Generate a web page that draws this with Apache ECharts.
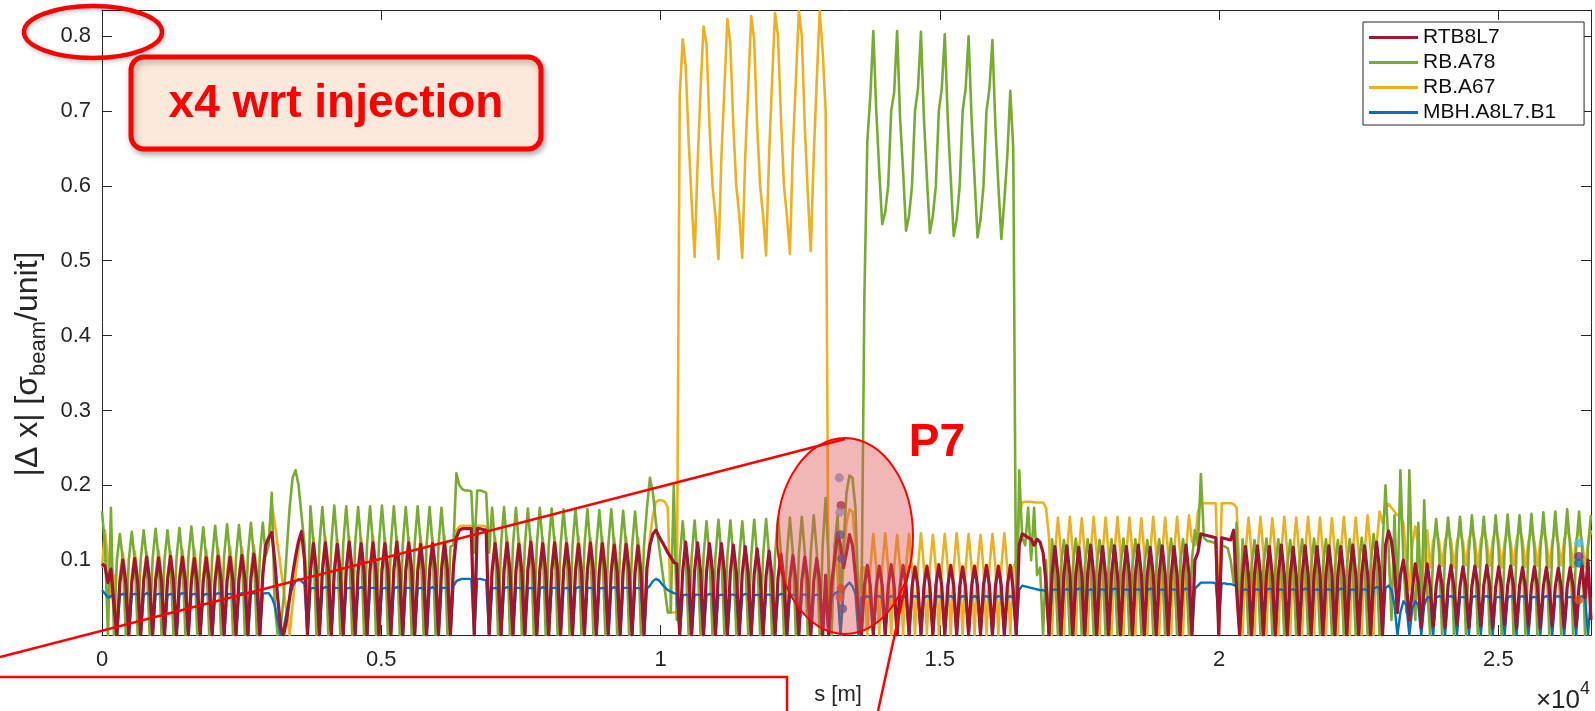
<!DOCTYPE html>
<html><head><meta charset="utf-8">
<script src="https://cdn.jsdelivr.net/npm/echarts@6/dist/echarts.min.js"></script>
<style>html,body{margin:0;padding:0;background:#fff}#c{width:1595px;height:711px}</style>
</head><body><div id="c"></div>
<script>
// ---- data (values in milli-units of sigma_beam/unit, one sample every S_STEP metres) ----
const S_STEP = 53.318;
const S_MAX = 26659;
const seriesNames = ['RTB8L7', 'RB.A78', 'RB.A67', 'MBH.A8L7.B1'];
const xTickLabels = ['0', '0.5', '1', '1.5', '2', '2.5'];
const yTickLabels = ['', '0.1', '0.2', '0.3', '0.4', '0.5', '0.6', '0.7', '0.8'];

const red = [
95,92,70,88,40,
0,70,100,70, 0,70,102,70, 0,72,104,72, 0,72,103,72, 0,73,105,73, 0,72,104,72, 0,70,102,70, 0,72,103,72, 0,73,105,73, 0,72,104,72, 0,74,106,74, 0,75,108,75,
0,80,120,
130,137,100,50,10,0,20,50,80,105,125,138,100,0,
85,122,85,0, 85,123,86,0, 84,121,85,0, 86,124,86,0, 85,122,85,0, 86,123,85,0, 85,122,86,0, 86,124,85,0, 85,123,86,0, 84,121,84,0, 85,122,85,0, 86,123,86,0,
90,130,140,142,142,142,142,0,142,142,141,140,0,
85,122,85,0, 86,123,85,0, 85,121,84,0, 86,124,86,0, 85,122,85,0, 85,123,86,0, 86,122,85,0, 85,121,85,0, 86,123,86,0, 85,122,85,0, 84,120,84,0, 85,121,85,0, 84,119,83,0,
90,120,135,140,132,125,118,110,104,97,95,0,
85,124,86,0, 86,123,85,0, 85,122,85,0, 85,122,85,0, 84,120,84,0, 83,118,82,0, 81,115,80,0, 79,112,78,0, 76,108,76,0, 75,106,74,0, 73,104,73,0, 72,102,72,0, 80,
0,70,100,136,120,90,110,134,120,80,30,0,
65,93,65,0, 65,92,66,0, 66,94,66,0, 65,93,65,0, 64,91,64,0, 65,92,65,0, 66,94,65,0, 65,93,66,0, 64,91,64,0, 65,92,65,0, 66,93,66,0, 65,92,65,0, 65,93,60,
0,120,135,133,130,128,120,128,124,110,70,0,
80,118,80,0, 81,119,81,0, 80,117,80,0, 82,120,81,0, 80,118,80,0, 81,119,80,0, 80,118,81,0, 81,120,81,0, 80,117,80,0, 81,119,81,0, 80,118,80,0, 82,120,82,0, 100,
110,135,134,133,132,131,130,0,130,129,128,127,140,60,0,
80,118,80,0, 81,119,81,0, 80,118,80,0, 81,120,81,0, 80,117,80,0, 81,119,81,0, 80,118,80,0, 81,119,81,0, 80,118,80,0, 82,120,81,0, 81,119,81,0, 84,124,88,0,
120,139,125,90,30,80,100,70,20,60,95,70,10,60,95,
65,12,65,92, 66,10,66,93, 64,15,64,91, 65,10,65,92, 66,12,66,93, 65,10,64,91, 64,14,65,92, 65,10,65,90, 64,12,64,91, 65,10,65,90, 63,12,64,89, 64,10,64,90, 65,12,66,93,
50,100,20
];

const green = [
165,120,0,170,0,100,135,100,
0,100,138,100, 0,101,140,101, 0,102,142,102, 0,101,140,101, 0,102,143,102, 0,104,145,104, 0,103,144,103, 0,104,146,104, 0,105,148,105, 0,104,147,104, 0,106,150,106, 0,106,150,106,
120,190,40,0,10,50,110,170,210,220,200,160,120,20,
172,122,0,121, 171,121,0,122, 173,122,0,121, 172,121,0,122, 171,122,0,121, 172,121,0,122, 173,122,0,121, 172,122,0,121, 171,121,0,122, 172,122,0,121, 171,121,0,120, 170,120,0,118,
120,216,200,195,193,193,192,110,193,193,192,190,110,
170,120,0,121, 171,121,0,120, 170,120,0,121, 169,120,0,120, 170,121,0,120, 169,120,0,120, 168,119,0,120, 169,120,0,119, 168,119,0,119, 167,118,0,119, 168,119,0,118, 166,118,0,118, 165,117,0,120,
170,210,190,150,120,90,60,30,30,200,20,100,
152,105,0,104, 153,105,0,105, 152,104,0,105, 154,106,0,105, 153,105,0,104, 152,104,0,105, 154,106,0,106, 155,107,0,106, 156,108,0,107, 157,108,0,108, 158,110,0,110, 160,112,0,120, 183,
100,0,120,160,50,120,190,213,210,170,50,20,
450,660,720,807,700,620,549,
565,600,700,725,807,690,620,540,
560,600,700,730,806,690,610,537,
560,600,700,730,803,690,610,533,
555,600,700,730,800,690,610,531,
555,600,700,730,795,680,600,529,
580,640,727,650,
0,220,130,120,170,100,170,80,90,0,100,0,
128,90,0,91, 127,90,0,90, 129,91,0,90, 128,90,0,91, 127,90,0,90, 128,91,0,90, 129,91,0,91, 128,90,0,90, 127,90,0,91, 128,91,0,90, 129,91,0,91, 128,90,0,100, 140,
120,215,130,126,125,124,122,0,120,118,116,100,70,150,0,
128,90,0,91, 127,90,0,90, 129,91,0,90, 128,90,0,91, 127,90,0,90, 128,91,0,90, 129,91,0,91, 128,90,0,90, 127,90,0,91, 128,91,0,90, 130,92,0,92, 135,95,0,120,
200,120,20,160,50,220,100,30,220,80,20,150,40,180,60,
0,110,155,110, 0,111,157,111, 0,112,158,112, 0,112,160,112, 0,111,158,111, 0,112,160,112, 0,113,161,113, 0,112,160,112, 0,113,162,113, 0,114,164,114, 0,115,165,115, 0,116,168,116, 0,115,165,115,
0,120,160
];

const yellow = [
90,140,100,50,80,
0,78,110,78, 0,79,112,79, 0,78,111,78, 0,80,113,80, 0,79,112,79, 0,80,114,80, 0,81,115,81, 0,80,114,80, 0,82,116,82, 0,83,118,83, 0,82,117,82, 0,84,120,84,
0,90,125,
130,176,150,120,90,60,30,0,40,80,115,140,120,0,
90,130,90,0, 91,131,90,0, 90,129,90,0, 91,131,91,0, 90,130,90,0, 91,132,91,0, 90,130,90,0, 91,131,90,0, 90,130,91,0, 91,132,91,0, 90,130,90,0, 92,133,92,0,
100,140,145,146,146,146,146,0,146,146,146,145,0,
90,130,90,0, 91,131,91,0, 90,129,90,0, 91,131,91,0, 90,130,90,0, 91,131,90,0, 90,130,91,0, 91,132,91,0, 90,130,90,0, 91,131,91,0, 90,130,90,0, 91,131,90,0, 90,130,90,0,
90,130,160,178,180,180,178,170,30,30,30,720,
796,760,660,580,505,630,730,
813,790,680,600,560,502,640,730,
823,790,680,600,560,504,640,730,
827,795,680,600,560,507,640,740,
831,800,690,600,560,509,650,740,
834,800,680,590,513,640,740,
834,780,700,
20,50,120,80,0,100,150,168,165,120,40,90,
90,0,90,135, 91,0,91,136, 90,0,90,134, 91,0,91,135, 90,0,90,136, 91,0,91,134, 90,0,90,135, 91,0,91,136, 90,0,90,135, 91,0,91,134, 90,0,90,135, 91,0,91,136, 90,0,90,
100,160,177,178,178,178,177,177,177,177,170,130,
0,110,157,110, 0,111,158,111, 0,110,156,110, 0,111,158,111, 0,110,157,110, 0,111,158,111, 0,110,157,110, 0,110,156,110, 0,111,158,111, 0,110,157,110, 0,111,158,111, 0,112,160,125, 120,
165,176,176,176,176,176,176,30,176,176,176,176,175,170,80,
0,110,157,110, 0,111,158,111, 0,110,156,110, 0,111,158,111, 0,110,157,110, 0,111,158,111, 0,110,157,110, 0,110,156,110, 0,111,158,111, 0,110,157,110, 0,112,160,115, 0,120,165,150,
170,175,170,165,160,160,150,100,60,120,145,120,50,110,140,
90,125,140,125, 92,126,141,126, 90,125,139,124, 93,127,142,127, 91,126,140,125, 92,126,141,126, 90,124,139,124, 93,127,142,127, 91,125,140,125, 92,126,141,126, 90,125,140,124, 93,127,142,127, 91,126,141,126,
90,120,140
];

const blue = [
60,55,50,52,53,
0,53,55,54, 0,54,55,54, 0,53,56,54, 0,54,55,55, 0,53,55,54, 0,54,56,55, 0,54,55,54, 0,53,55,54, 0,54,56,55, 0,54,55,54, 0,55,56,55, 0,55,56,55,
0,55,56,
56,50,40,20,0,10,30,50,65,72,75,72,68,0,
62,63,62,0, 62,64,63,0, 63,63,62,0, 62,63,62,0, 62,64,62,0, 63,63,63,0, 62,63,62,0, 62,64,63,0, 63,63,62,0, 62,63,62,0, 62,64,62,0, 63,63,63,0,
65,72,74,75,75,75,75,0,75,75,74,73,0,
62,63,62,0, 62,64,63,0, 63,63,62,0, 62,63,62,0, 62,64,62,0, 63,63,63,0, 62,63,62,0, 62,64,63,0, 63,63,62,0, 62,63,62,0, 62,64,62,0, 63,63,63,0, 62,63,62,0,
62,66,72,75,73,68,64,60,58,56,55,0,
53,54,53,0, 54,54,53,0, 53,55,54,0, 53,54,53,0, 54,54,53,0, 53,55,54,0, 53,54,53,0, 54,54,53,0, 53,55,54,0, 53,54,53,0, 54,54,53,0, 53,54,53,0, 53,
0,50,55,58,0,60,66,70,65,55,0,50,
50,52,50,0, 51,52,50,0, 50,52,51,0, 50,52,50,0, 51,52,50,0, 50,52,51,0, 50,52,50,0, 51,52,50,0, 50,52,51,0, 50,52,50,0, 51,52,50,0, 50,52,51,0, 50,52,50,
0,60,66,65,64,63,62,61,60,60,58,0,
60,61,60,0, 61,61,60,0, 60,62,61,0, 60,61,60,0, 61,61,60,0, 60,62,61,0, 60,61,60,0, 61,61,60,0, 60,62,61,0, 60,61,60,0, 61,61,60,0, 60,62,61,0, 62,
66,70,70,70,70,70,69,20,69,69,68,68,67,65,0,
60,61,60,0, 61,61,60,0, 60,62,61,0, 60,61,60,0, 61,61,60,0, 60,62,61,0, 60,61,60,0, 61,61,60,0, 60,62,61,0, 60,61,60,0, 61,61,60,0, 62,64,63,0,
63,66,60,40,0,30,45,40,0,35,45,40,0,40,50,
50,0,50,52, 51,0,51,52, 50,0,50,51, 50,0,50,52, 51,0,51,52, 50,0,50,51, 50,0,50,52, 51,0,51,52, 50,0,50,51, 50,0,50,52, 51,0,51,52, 50,0,50,51, 50,0,50,52,
50,0,50
];

// point markers (s in m, value in milli-units)
const p7MarkS = [13200, 13230, 13210, 13220, 13240, 13230, 13210, 13260];
const p7MarkV = [210, 173, 164, 134, 102, 62, 50, 35];
const endMarkS = [26440, 26440, 26440, 26440];
const endMarkV = [123, 105, 96, 47];

// ---- styling ----
const FONT = "'Liberation Sans', Arial, Helvetica, sans-serif";
const AX = '#262626';
const colors = { red: '#A2142F', green: '#77AC30', yellow: '#EDB120', blue: '#0072BD' };
const p7MarkColors = ['#6F9FD6', '#8B1E4F', '#7FA8D8', '#2B5CA8', '#2B5CA8', '#E04020', '#E86030', '#2B5CA8'];
const endMarkColors = ['#4DBEEE', '#7E2F8E', '#0072BD', '#D95319'];

const toPts = arr => arr.map((v, i) => [i * S_STEP, v / 1000]);

const chart = echarts.init(document.getElementById('c'), null, { renderer: 'canvas' });

const tickCommon = { show: true, inside: true, length: 10, lineStyle: { color: AX, width: 1 } };
const axisLineCommon = { show: true, onZero: false, lineStyle: { color: AX, width: 1 } };

function lineSeries(name, arr, color, width) {
  return {
    name, type: 'line', data: toPts(arr), showSymbol: false, symbol: 'none',
    lineStyle: { color, width, join: 'round' }, itemStyle: { color }, color,
    emphasis: { disabled: true }, animation: false, z: 2
  };
}

const option = {
  animation: false,
  textStyle: { fontFamily: FONT },
  grid: { left: 102, right: 4, top: 10, bottom: 76 },
  xAxis: [{
    type: 'value', min: 0, max: S_MAX, interval: 5000, position: 'bottom',
    axisLine: axisLineCommon, axisTick: tickCommon, splitLine: { show: false },
    axisLabel: { color: AX, fontSize: 22, fontFamily: FONT, margin: 14, showMaxLabel: false,
      formatter: v => xTickLabels[Math.round(v / 5000)] || '' }
  }, {
    type: 'value', min: 0, max: S_MAX, interval: 5000, position: 'top',
    axisLine: axisLineCommon, axisTick: tickCommon, splitLine: { show: false }, axisLabel: { show: false }
  }],
  yAxis: [{
    type: 'value', min: 0, max: 0.835, interval: 0.1, position: 'left',
    axisLine: axisLineCommon, axisTick: tickCommon, splitLine: { show: false },
    axisLabel: { color: AX, fontSize: 22, fontFamily: FONT, margin: 11, showMaxLabel: false,
      formatter: v => yTickLabels[Math.round(v * 10)] || '' }
  }, {
    type: 'value', min: 0, max: 0.835, interval: 0.1, position: 'right',
    axisLine: axisLineCommon, axisTick: tickCommon, splitLine: { show: false }, axisLabel: { show: false }
  }],
  legend: {
    data: seriesNames, orient: 'vertical', left: 1363, top: 22,
    icon: 'rect', itemWidth: 49, itemHeight: 3, itemGap: 4,
    padding: [5, 28, 2, 6], borderColor: AX, borderWidth: 1, backgroundColor: '#fff',
    textStyle: { fontSize: 21, lineHeight: 20, color: '#111', fontFamily: FONT },
    selectedMode: false
  },
  series: [
    lineSeries('RB.A67', yellow, colors.yellow, 2.6),
    lineSeries('RB.A78', green, colors.green, 2.6),
    lineSeries('MBH.A8L7.B1', blue, colors.blue, 2.4),
    lineSeries('RTB8L7', red, colors.red, 3.2),
    {
      type: 'scatter', data: p7MarkS.map((s, i) => ({ value: [s, p7MarkV[i] / 1000], itemStyle: { color: p7MarkColors[i] } })),
      symbolSize: 9, z: 3, silent: true, animation: false
    },
    {
      type: 'scatter', data: endMarkS.map((s, i) => ({ value: [s, endMarkV[i] / 1000], itemStyle: { color: endMarkColors[i] } })),
      symbolSize: 9, z: 3, silent: true, animation: false
    }
  ],
  graphic: [
    // axis titles
    { type: 'text', x: 28, y: 364, rotation: Math.PI / 2, z: 50,
      style: { text: '{m||Δ x| [σ}{s|beam}{m|/unit]}', align: 'center', verticalAlign: 'middle', fill: AX,
        rich: { m: { fontSize: 32, fontFamily: FONT, fill: AX, lineHeight: 44, verticalAlign: 'middle' },
                s: { fontSize: 22, fontFamily: FONT, fill: AX, lineHeight: 44, verticalAlign: 'bottom' } } } },
    { type: 'text', x: 838, y: 695, z: 50,
      style: { text: 's [m]', fontSize: 22, fontFamily: FONT, fill: AX, align: 'center', verticalAlign: 'middle' } },
    { type: 'text', x: 1590, y: 697, z: 50,
      style: { text: '{m|×10}{p|4}', align: 'right', verticalAlign: 'middle', fill: AX,
        rich: { m: { fontSize: 26, fontFamily: FONT, fill: AX, lineHeight: 34, verticalAlign: 'bottom' },
                p: { fontSize: 18, fontFamily: FONT, fill: AX, lineHeight: 34, verticalAlign: 'top' } } } },
    // annotations
    { type: 'ellipse', z: 100, shape: { cx: 845, cy: 536, rx: 68, ry: 98 },
      style: { fill: 'rgba(222,80,80,0.42)', stroke: '#FF0000', lineWidth: 2 } },
    { type: 'line', z: 100, shape: { x1: 0, y1: 657, x2: 845, y2: 439 }, style: { stroke: '#FF0000', lineWidth: 2.5 } },
    { type: 'line', z: 100, shape: { x1: 910, y1: 565, x2: 878, y2: 711 }, style: { stroke: '#FF0000', lineWidth: 2.5 } },
    { type: 'polyline', z: 100, shape: { points: [[0, 677], [787, 677], [787, 712]] }, style: { stroke: '#FF0000', lineWidth: 2.5, fill: null } },
    { type: 'text', x: 937, y: 443, z: 100,
      style: { text: 'P7', fontSize: 46, fontWeight: 'bold', fontFamily: FONT, fill: '#FF0000', align: 'center', verticalAlign: 'middle' } },
    { type: 'ellipse', z: 100, shape: { cx: 93, cy: 32, rx: 69, ry: 26 },
      style: { fill: null, stroke: '#FF0000', lineWidth: 4.5, shadowBlur: 4, shadowColor: 'rgba(0,0,0,0.25)', shadowOffsetX: 1, shadowOffsetY: 2 } },
    { type: 'rect', z: 100, shape: { x: 131, y: 57, width: 410, height: 92, r: 13 },
      style: { fill: '#FCE9DC', stroke: '#FF0000', lineWidth: 5, shadowBlur: 6, shadowColor: 'rgba(0,0,0,0.3)', shadowOffsetX: 2, shadowOffsetY: 3 } },
    { type: 'text', x: 336, y: 104, z: 101,
      style: { text: 'x4 wrt injection', fontSize: 46, fontWeight: 'bold', fontFamily: FONT, fill: '#FF0000', align: 'center', verticalAlign: 'middle' } }
  ]
};
chart.setOption(option);
</script>
</body></html>
